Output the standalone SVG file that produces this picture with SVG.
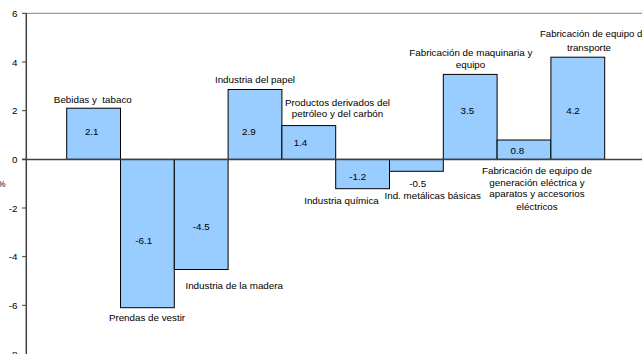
<svg xmlns="http://www.w3.org/2000/svg" width="642" height="354" viewBox="0 0 642 354">
<style>
text{font-family:"Liberation Sans",Arial,sans-serif;font-size:9.8px;fill:#000}
.c{text-anchor:middle}
.e{text-anchor:end}
.bar{fill:#99CCFF;stroke:#000;stroke-width:1}
.tick{stroke:#404040;stroke-width:1}
</style>
<rect width="642" height="354" fill="#fff"/>
<g id="axes">
<line x1="26" y1="13.3" x2="642" y2="13.3" stroke="#808080" stroke-width="1"/>
<line x1="26.3" y1="13" x2="26.3" y2="354" stroke="#404040" stroke-width="1.5"/>
<g class="tick">
<line x1="22" y1="13.3" x2="26" y2="13.3"/>
<line x1="22" y1="62" x2="26" y2="62"/>
<line x1="22" y1="110.7" x2="26" y2="110.7"/>
<line x1="22" y1="159.3" x2="26" y2="159.3"/>
<line x1="22" y1="208" x2="26" y2="208"/>
<line x1="22" y1="256.7" x2="26" y2="256.7"/>
<line x1="22" y1="305.3" x2="26" y2="305.3"/>
</g>
<text class="e" x="17.5" y="16.9">6</text>
<text class="e" x="17.5" y="65.6">4</text>
<text class="e" x="17.5" y="114.3">2</text>
<text class="e" x="17.5" y="162.9">0</text>
<text class="e" x="17.5" y="211.6">-2</text>
<text class="e" x="17.5" y="260.3">-4</text>
<text class="e" x="17.5" y="308.9">-6</text>
<text class="e" x="17.5" y="357.6">-8</text>
<text x="-2" y="186.8" style="font-size:8.5px">%</text>
</g>
<g id="bar-bebidas"><rect class="bar" x="66.7" y="108.2" width="53.8" height="51.1"/><text class="c" x="91.7" y="135.2">2.1</text><text class="c" x="92.8" y="102.5">Bebidas y&#160; tabaco</text></g>
<g id="bar-prendas"><rect class="bar" x="120.5" y="159.3" width="53.8" height="148.4"/><text class="c" x="143.8" y="244.2">-6.1</text><text class="c" x="147" y="320.5">Prendas de vestir</text></g>
<g id="bar-madera"><rect class="bar" x="174.3" y="159.3" width="53.8" height="110.2"/><text class="c" x="201.3" y="230.2">-4.5</text><text class="c" x="234.2" y="288.5">Industria de la madera</text></g>
<g id="bar-papel"><rect class="bar" x="228.1" y="89.5" width="53.8" height="69.8"/><text class="c" x="248.8" y="135.2">2.9</text><text class="c" x="255" y="82.8">Industria del papel</text></g>
<g id="bar-petroleo"><rect class="bar" x="281.9" y="125.6" width="53.8" height="33.7"/><text class="c" x="300.5" y="146.2">1.4</text><text class="c" x="337.5" y="105.8">Productos derivados del</text><text class="c" x="337.5" y="116.8">petróleo y del carbón</text></g>
<g id="bar-quimica"><rect class="bar" x="335.7" y="159.3" width="53.8" height="29.4"/><text class="c" x="357.8" y="179.5">-1.2</text><text class="c" x="341.5" y="203.8">Industria química</text></g>
<g id="bar-metalicas"><rect class="bar" x="389.5" y="159.3" width="53.8" height="12"/><text class="c" x="417.7" y="187.2">-0.5</text><text class="c" x="432.7" y="198.5">Ind. metálicas básicas</text></g>
<g id="bar-maquinaria"><rect class="bar" x="443.3" y="74.4" width="53.8" height="84.9"/><text class="c" x="467.3" y="113.6">3.5</text><text class="c" x="470.8" y="55.8">Fabricación de maquinaria y</text><text class="c" x="470.5" y="68.2">equipo</text></g>
<g id="bar-electrica"><rect class="bar" x="497.1" y="140" width="53.8" height="19.3"/><text class="c" x="517.3" y="153.9">0.8</text><text class="c" x="537" y="173.8">Fabricación de equipo de</text><text class="c" x="537" y="185.5">generación eléctrica y</text><text class="c" x="537" y="197.2">aparatos y accesorios</text><text class="c" x="537" y="209.5">eléctricos</text></g>
<g id="bar-transporte"><rect class="bar" x="550.9" y="57.2" width="53.8" height="102.1"/><text class="c" x="573" y="113.6">4.2</text><text x="540" y="37" style="font-size:9.6px">Fabricación de equipo de</text><text class="c" x="589" y="51.2">transporte</text></g>
<g id="connectors">
<line x1="22" y1="159.5" x2="642" y2="159.5" stroke="#404040" stroke-width="1.5"/>
</g>
</svg>
